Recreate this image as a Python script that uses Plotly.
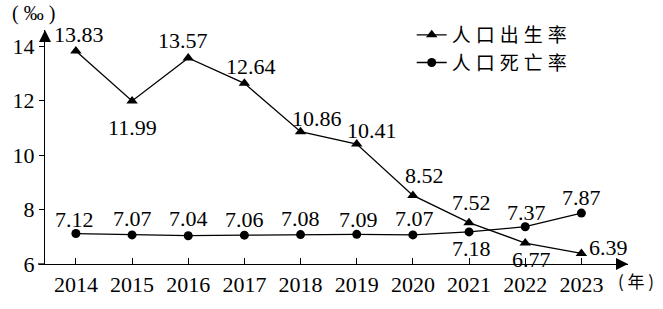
import plotly.graph_objects as go

years = [2014, 2015, 2016, 2017, 2018, 2019, 2020, 2021, 2022, 2023]
birth_rate = [13.83, 11.99, 13.57, 12.64, 10.86, 10.41, 8.52, 7.52, 6.77, 6.39]
death_rate = [7.12, 7.07, 7.04, 7.06, 7.08, 7.09, 7.07, 7.18, 7.37, 7.87]
y_ticks = [6, 8, 10, 12, 14]
series_names = ["人口出生率", "人口死亡率"]

X_RANGE = [2013.45, 2023.83]
Y_RANGE = [6, 14.6]

# label offsets in pixels (style only)
birth_off = [(3, 16), (0, -26), (-5, 18), (7, 17), (16, 13), (15, 14), (12, 20), (2, 20), (6, -16), (27, 6)]
death_off = [(-1, 14), (0, 16), (0, 17), (0, 16), (0, 16), (2, 15), (2, 16), (2, -17), (1, 14), (0, 16)]

FONT = "Liberation Serif, Times New Roman, serif"
CJK = "Noto Sans CJK SC"

fig = go.Figure()
fig.add_trace(go.Scatter(
    x=years, y=birth_rate, mode="lines+markers",
    name='<span style="letter-spacing:5px">' + series_names[0] + "</span>",
    line=dict(color="black", width=1.3),
    marker=dict(symbol="triangle-up", size=10, color="black"),
))
fig.add_trace(go.Scatter(
    x=years, y=death_rate, mode="lines+markers",
    name='<span style="letter-spacing:5px">' + series_names[1] + "</span>",
    line=dict(color="black", width=1.3),
    marker=dict(symbol="circle", size=9, color="black"),
))
# axis arrowheads
fig.add_trace(go.Scatter(
    x=[X_RANGE[0], X_RANGE[1]], y=[Y_RANGE[1], Y_RANGE[0]], mode="markers",
    marker=dict(symbol=["arrow-up", "arrow-right"], size=12, color="black"),
    cliponaxis=False, showlegend=False, hoverinfo="skip",
))

annotations = []
for xv, yv, (dx, dy) in zip(years, birth_rate, birth_off):
    annotations.append(dict(x=xv, y=yv, xref="x", yref="y", text=f"{yv:.2f}",
                            showarrow=False, xshift=dx, yshift=dy,
                            font=dict(family=FONT, size=22, color="black")))
for xv, yv, (dx, dy) in zip(years, death_rate, death_off):
    annotations.append(dict(x=xv, y=yv, xref="x", yref="y", text=f"{yv:.2f}",
                            showarrow=False, xshift=dx, yshift=dy,
                            font=dict(family=FONT, size=22, color="black")))

# unit labels
annotations.append(dict(x=-0.02, y=1.07, xref="paper", yref="paper", text="( ‰ )",
                        showarrow=False, xanchor="center", yanchor="middle",
                        font=dict(family=FONT, size=20, color="black")))
annotations.append(dict(x=1.0, y=-0.07, xref="paper", yref="paper", text="( 年 )",
                        showarrow=False, xanchor="left", yanchor="middle", xshift=-12,
                        font=dict(family=CJK, size=17, color="black")))

fig.update_layout(
    width=663, height=309,
    margin=dict(l=41, r=35, t=30, b=28),
    paper_bgcolor="white", plot_bgcolor="white",
    showlegend=True,
    legend=dict(x=0.629, y=1.06, xanchor="left", yanchor="top",
                bgcolor="rgba(0,0,0,0)", font=dict(family=CJK, size=19, color="black"),
                tracegroupgap=0, itemwidth=30),
    annotations=annotations,
    shapes=[dict(type="line", xref="paper", yref="paper", x0=-0.012, x1=0, y0=0, y1=0,
                 line=dict(color="black", width=1.3))],
    font=dict(family=FONT, size=22, color="black"),
)
fig.update_xaxes(range=X_RANGE, tickvals=years, ticks="inside", ticklen=6,
                 tickwidth=1.2, tickcolor="black", showline=True, linecolor="black",
                 linewidth=1.3, showgrid=False, zeroline=False,
                 tickfont=dict(family=FONT, size=22, color="black"))
fig.update_yaxes(range=Y_RANGE, tickvals=y_ticks, ticks="outside", ticklen=5,
                 tickwidth=1.2, tickcolor="black", showline=True, linecolor="black",
                 linewidth=1.3, showgrid=False, zeroline=False,
                 tickfont=dict(family=FONT, size=22, color="black"))

fig.write_html("out.html")
